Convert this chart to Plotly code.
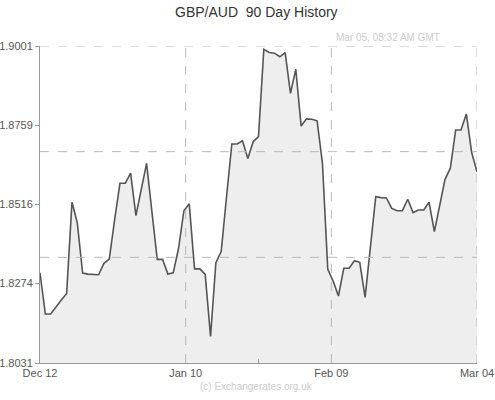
import plotly.graph_objects as go

rates = [
    1.8307, 1.8181, 1.8181, 1.8204, 1.8224, 1.8244, 1.8523, 1.8460, 1.8306, 1.8303,
    1.8301, 1.8301, 1.8336, 1.8349, 1.8469, 1.8581, 1.8581, 1.8612, 1.8482, 1.8560,
    1.8642, 1.8494, 1.8348, 1.8348, 1.8303, 1.8307, 1.8382, 1.8497, 1.8518, 1.8319,
    1.8319, 1.8302, 1.8112, 1.8338, 1.8372, 1.8539, 1.8701, 1.8701, 1.8711, 1.8657,
    1.8708, 1.8724, 1.8991, 1.8981, 1.8979, 1.8968, 1.8981, 1.8856, 1.8930, 1.8756,
    1.8778, 1.8777, 1.8772, 1.8642, 1.8318, 1.8282, 1.8236, 1.8321, 1.8321, 1.8344,
    1.8339, 1.8232, 1.8392, 1.8540, 1.8537, 1.8536, 1.8504, 1.8497, 1.8497, 1.8532,
    1.8491, 1.8499, 1.8499, 1.8523, 1.8433, 1.8509, 1.8593, 1.8627, 1.8744, 1.8744,
    1.8793, 1.8675, 1.8616,
]
days = list(range(len(rates)))
x_labels = ["Dec 12", "Jan 10", "Feb 09", "Mar 04"]
y_ticks = [1.8031, 1.8274, 1.8516, 1.8759, 1.9001]
title_text = "GBP/AUD  90 Day History"
stamp_text = "Mar 05, 08:32 AM GMT"
credit_text = "(c) Exchangerates.org.uk"

n = len(rates) - 1
x_tickvals = [0, n / 3, 2 * n / 3, n]
ymin, ymax = y_ticks[0], y_ticks[-1]

FONT = "Liberation Sans, Arial, sans-serif"
GRID = "#b8b8b8"

fig = go.Figure()
fig.add_trace(go.Scatter(
    x=days, y=rates, mode="lines",
    line=dict(color="#555555", width=1.6),
    fill="tozeroy", fillcolor="#eeeeee",
    hoverinfo="skip",
))

shapes = []
# horizontal dashed grid at thirds + top edge
for k in (1, 2, 3):
    yv = ymin + (ymax - ymin) * k / 3
    shapes.append(dict(type="line", xref="paper", yref="y", x0=0, x1=1, y0=yv, y1=yv,
                       line=dict(color=GRID, width=1, dash="dash"), layer="above"))
# vertical dashed grid at thirds + right edge
for k in (1, 2, 3):
    xv = n * k / 3
    shapes.append(dict(type="line", xref="x", yref="paper", x0=xv, x1=xv, y0=0, y1=1,
                       line=dict(color=GRID, width=1, dash="dash"), layer="above"))
# small tick at bottom middle
shapes.append(dict(type="line", xref="x", yref="paper", x0=n / 2, x1=n / 2, y0=0, y1=0.012,
                   line=dict(color="#999999", width=1)))

fig.update_layout(
    width=495, height=400,
    margin=dict(l=40, r=18, t=46, b=37, autoexpand=False),
    paper_bgcolor="white", plot_bgcolor="white",
    showlegend=False,
    shapes=shapes,
    font=dict(family=FONT, color="#555555", size=11),
    annotations=[
        dict(text=title_text, xref="paper", yref="paper", x=0.495, y=1.0,
             yshift=34, showarrow=False, xanchor="center", yanchor="middle",
             font=dict(size=14, color="#333333", family=FONT)),
        dict(text=stamp_text, xref="paper", yref="paper", x=0.919, y=1.0,
             yshift=9, showarrow=False, xanchor="right", yanchor="middle",
             font=dict(size=10, color="#cccccc", family=FONT)),
        dict(text=credit_text, xref="paper", yref="paper", x=0.495, y=0,
             yshift=-16, showarrow=False, xanchor="center", yanchor="top",
             font=dict(size=10, color="#cccccc", family=FONT)),
    ],
)
fig.update_xaxes(
    range=[0, n], tickvals=x_tickvals, ticktext=x_labels, automargin=False,
    showgrid=False, zeroline=False, showline=True, linecolor="#999999", linewidth=1,
    ticks="", tickfont=dict(size=11, color="#555555"),
)
fig.update_yaxes(
    range=[ymin, ymax], tickvals=y_ticks, ticktext=[f"{v:.4f}" for v in y_ticks],
    automargin=False,
    showgrid=False, zeroline=False, showline=True, linecolor="#999999", linewidth=1,
    ticks="outside", ticklen=4, tickcolor="#999999",
    tickfont=dict(size=11, color="#555555"),
)

fig.write_html("out.html", config={"displayModeBar": False},
               post_script="document.body.style.margin='0';")
